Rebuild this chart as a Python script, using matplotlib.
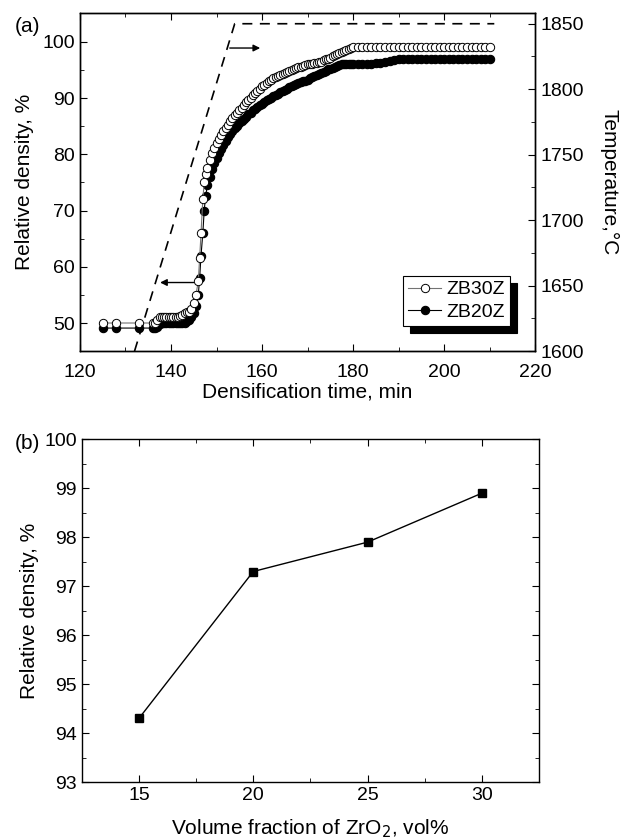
import matplotlib.pyplot as plt
import numpy as np

plt.rcParams["font.family"] = ["Liberation Sans", "DejaVu Sans"]
plt.rcParams["xtick.direction"] = "in"
plt.rcParams["ytick.direction"] = "in"

# ---- panel (a): densification curves ----
t_early = [125, 128, 133, 136]
zb30_early = [50.0, 50.0, 50.0, 50.0]
zb20_early = [49.1, 49.1, 49.1, 49.1]

# half-minute samples from 136.5 to 180
t_mid = [136.5, 137, 137.5, 138, 138.5, 139, 139.5, 140, 140.5, 141, 141.5,
         142, 142.5, 143, 143.5, 144, 144.5, 145, 145.5, 146, 146.3, 146.6,
         147, 147.3, 147.6, 148, 148.5, 149, 149.5, 150, 150.5, 151, 151.5,
         152, 152.5, 153, 153.5, 154, 154.5, 155, 155.5, 156, 156.5, 157,
         157.5, 158, 158.5, 159, 159.5, 160, 160.5, 161, 161.5, 162, 162.5,
         163, 163.5, 164, 164.5, 165, 165.5, 166, 166.5, 167, 167.5, 168,
         168.5, 169, 169.5, 170, 170.5, 171, 171.5, 172, 172.5, 173, 173.5,
         174, 174.5, 175, 175.5, 176, 176.5, 177, 177.5, 178, 178.5, 179,
         179.5, 180]
zb30_mid = [50.0, 50.5, 51.0, 51.0, 51.0, 51.0, 51.0, 51.0, 51.0, 51.0, 51.0,
            51.2, 51.5, 51.8, 52.0, 52.0, 52.5, 53.5, 55.0, 57.5, 61.5, 66.0,
            72.0, 75.0, 76.5, 77.5, 79.0, 80.3, 81.2, 82.0, 82.8, 83.5, 84.1,
            84.7, 85.3, 85.9, 86.5, 87.0, 87.4, 87.8, 88.3, 88.8, 89.3, 89.7,
            90.1, 90.5, 90.9, 91.3, 91.7, 92.1, 92.4, 92.7, 93.0, 93.3, 93.5,
            93.7, 93.9, 94.1, 94.3, 94.5, 94.7, 94.9, 95.0, 95.2, 95.3, 95.5,
            95.6, 95.7, 95.8, 96.0, 96.1, 96.1, 96.2, 96.3, 96.4, 96.5, 96.7,
            96.9, 97.0, 97.2, 97.4, 97.6, 97.8, 98.0, 98.2, 98.4, 98.6, 98.8,
            98.9, 99.0]
zb20_mid = [49.1, 49.3, 49.8, 50.0, 50.0, 50.0, 50.0, 50.0, 50.0, 50.0, 50.0,
            50.0, 50.0, 50.0, 50.3, 50.6, 51.0, 51.8, 53.0, 55.0, 58.0, 62.0,
            66.0, 70.0, 72.5, 74.5, 76.0, 77.3, 78.4, 79.4, 80.2, 81.0, 81.7,
            82.4, 83.0, 83.6, 84.1, 84.6, 85.0, 85.5, 85.9, 86.3, 86.7, 87.1,
            87.4, 87.8, 88.1, 88.4, 88.7, 89.0, 89.3, 89.6, 89.8, 90.1, 90.3,
            90.6, 90.8, 91.0, 91.2, 91.5, 91.7, 91.9, 92.1, 92.3, 92.5, 92.7,
            92.8, 93.0, 93.1, 93.3, 93.5, 93.7, 93.9, 94.1, 94.3, 94.5, 94.7,
            94.9, 95.1, 95.2, 95.4, 95.6, 95.7, 95.9, 96.0, 96.0, 96.0, 96.0,
            96.0, 96.0]

# one-minute samples from 181 to 210
t_late = [181, 182, 183, 184, 185, 186, 187, 188, 189, 190, 191, 192, 193,
          194, 195, 196, 197, 198, 199, 200, 201, 202, 203, 204, 205, 206,
          207, 208, 209, 210]
zb30_late = [99.0] * 30
zb20_late = [96.0, 96.0, 96.0, 96.1, 96.2, 96.3, 96.4, 96.6, 96.8, 97.0,
             97.0, 97.0, 97.0, 97.0, 97.0, 97.0, 97.0, 97.0, 97.0, 97.0,
             97.0, 97.0, 97.0, 97.0, 97.0, 97.0, 97.0, 97.0, 97.0, 97.0]

# temperature program (right axis)
temp_t = [132, 154, 211]
temp_c = [1600, 1850, 1850]

# ---- panel (b): final density vs ZrO2 content ----
zro2_vol = [15, 20, 25, 30]
final_density = [94.3, 97.3, 97.9, 98.9]

t_all = t_early + t_mid + t_late
zb30 = zb30_early + zb30_mid + zb30_late
zb20 = zb20_early + zb20_mid + zb20_late

TICK_FS = 14
LABEL_FS = 15

fig = plt.figure(figsize=(6.29, 8.40), dpi=100)
ax = fig.add_axes([0.127, 0.582, 0.724, 0.403])
ax2 = ax.twinx()

ax.plot(t_all, zb20, "-", color="black", lw=0.8, marker="o", ms=6,
        mfc="black", mec="black", mew=0.8, label="ZB20Z", zorder=2)
ax.plot(t_all, zb30, "-", color="0.45", lw=0.8, marker="o", ms=6,
        mfc="white", mec="black", mew=0.7, label="ZB30Z", zorder=3)
ax2.plot(temp_t, temp_c, color="black", lw=1.2, dashes=(6, 4.5))

ax.annotate("", xy=(137.0, 57.2), xytext=(145.6, 57.2),
            arrowprops=dict(arrowstyle="-|>", color="black", lw=1.0,
                            mutation_scale=10))
ax.annotate("", xy=(160.2, 98.9), xytext=(152.3, 98.9),
            arrowprops=dict(arrowstyle="-|>", color="black", lw=1.0,
                            mutation_scale=10))

ax.set_xlim(120, 220)
ax.set_ylim(45, 105.2)
ax2.set_ylim(1600, 1858.5)
ax.set_xticks([120, 140, 160, 180, 200, 220])
ax.set_xticks([130, 150, 170, 190, 210], minor=True)
ax.set_yticks([50, 60, 70, 80, 90, 100])
ax.set_yticks([55, 65, 75, 85, 95], minor=True)
ax2.set_yticks([1600, 1650, 1700, 1750, 1800, 1850])
ax2.set_yticks([1625, 1675, 1725, 1775, 1825], minor=True)
ax.tick_params(which="both", top=True, labelsize=TICK_FS)
ax.tick_params(which="major", length=5)
ax.tick_params(which="minor", length=3)
ax.tick_params(axis="x", which="major", pad=9)
ax2.tick_params(which="major", length=5, labelsize=TICK_FS)
ax2.tick_params(which="minor", length=3)
ax.set_xlabel("Densification time, min", fontsize=LABEL_FS, labelpad=1)
ax.set_ylabel("Relative density, %", fontsize=LABEL_FS, labelpad=6)
ax2.set_ylabel("Temperature,°C", fontsize=LABEL_FS, rotation=270,
               labelpad=25)

handles, labels = ax.get_legend_handles_labels()
leg = ax.legend(handles[::-1], labels[::-1], loc="lower right",
                bbox_to_anchor=(0.945, 0.075), fontsize=TICK_FS, frameon=True,
                fancybox=False, edgecolor="black", handlelength=1.7,
                handletextpad=0.3, borderpad=0.25, labelspacing=0.25,
                borderaxespad=0.0,
                shadow={"color": "black", "alpha": 1.0, "ox": 5, "oy": -5})
leg.get_frame().set_linewidth(0.8)
fig.text(0.024, 0.962, "(a)", fontsize=LABEL_FS)

# ---- bottom panel ----
bx = fig.add_axes([0.130, 0.069, 0.727, 0.408])
bx.plot(zro2_vol, final_density, "-", color="black", lw=1.0, marker="s",
        ms=6, mfc="black", mec="black")
bx.set_xlim(12.5, 32.5)
bx.set_ylim(93, 100)
bx.set_xticks([15, 20, 25, 30])
bx.set_xticks([17.5, 22.5, 27.5], minor=True)
bx.set_yticks([93, 94, 95, 96, 97, 98, 99, 100])
bx.set_yticks(np.arange(93.5, 100, 1.0), minor=True)
bx.tick_params(which="both", top=True, right=True, labelsize=TICK_FS)
bx.tick_params(which="major", length=5)
bx.tick_params(which="minor", length=3)
bx.set_xlabel("Volume fraction of ZrO$_2$, vol%", fontsize=LABEL_FS,
              labelpad=10)
bx.set_ylabel("Relative density, %", fontsize=LABEL_FS, labelpad=4)
fig.text(0.024, 0.466, "(b)", fontsize=LABEL_FS)

for a in (ax, ax2, bx):
    for s in a.spines.values():
        s.set_linewidth(1.0)

fig.savefig("out.png", dpi=100)
